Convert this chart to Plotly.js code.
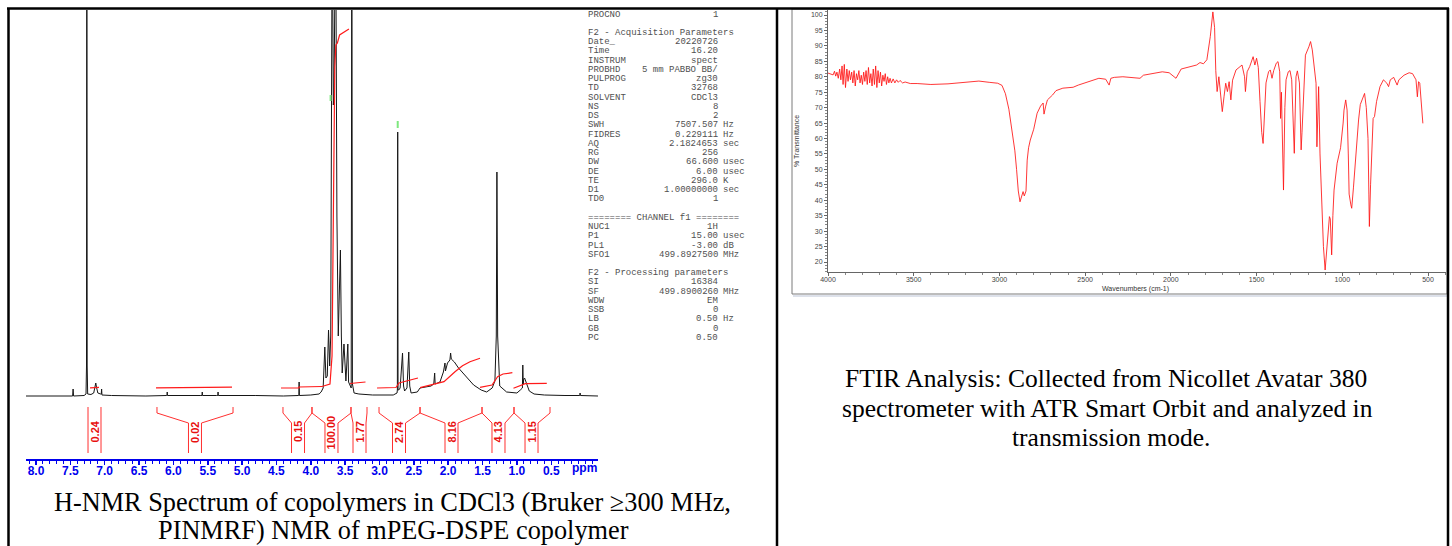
<!DOCTYPE html>
<html><head><meta charset="utf-8">
<script src="https://cdn.plot.ly/plotly-3.0.1.min.js"></script>
<style>html,body{margin:0;padding:0;background:#fff;}#chart{width:1452px;height:546px;}</style>
</head><body><div id="chart"></div>
<script>
// ---------- NMR spectrum (ppm vs intensity, intensity in arbitrary units; >386 is off-scale) ----------
const nmrPpm = [8.15,7.50,7.467,7.46,7.453,7.30,7.272,7.265,7.26,7.255,7.248,7.20,7.16,7.14,7.13,7.12,7.10,7.06,7.05,7.045,7.04,6.90,6.40,6.10,6.094,6.09,6.086,5.60,5.584,5.58,5.576,5.37,5.354,5.35,5.346,4.80,4.40,4.18,4.174,4.17,4.166,4.00,3.88,3.85,3.82,3.796,3.78,3.76,3.742,3.725,3.71,3.688,3.672,3.662,3.639,3.62,3.60,3.569,3.555,3.543,3.517,3.50,3.489,3.461,3.45,3.412,3.403,3.394,3.38,3.37,3.30,3.10,2.80,2.745,2.74,2.735,2.73,2.72,2.70,2.665,2.65,2.635,2.60,2.574,2.56,2.54,2.45,2.41,2.30,2.25,2.21,2.197,2.19,2.12,2.07,2.047,2.04,2.01,1.975,1.965,1.955,1.91,1.85,1.74,1.63,1.52,1.44,1.36,1.32,1.30,1.291,1.28,1.26,1.25,1.15,1.00,0.95,0.92,0.914,0.908,0.90,0.888,0.868,0.85,0.82,0.75,0.60,0.30,0.10,0.085,0.08,0.075,-0.18];
const nmrInt = [0,0.5,0,7,0,0.5,2,30,500,30,2,1.5,3,9,13,9,3,2,2,7,1,0.5,0,0.5,0.5,4,0.5,0.5,0.5,4,0.5,0.5,0.5,4,0.5,0.5,0,0.5,0.5,14,0.5,1,2,4,8,49,18,20,66,30,60,500,291,300,500,180,60,146,60,23,52,30,15,52,14,8,500,12,6,3,2,1,1,3,6,264,6,6,8,43,10,5,8,44,10,3,4,8,9,10,12,23,12,14,24,33,25,33,36,43,37,34,28,19,11,6,4,8,15,60,224,60,15,10,4,3,6,8,31,12,17,18,14,10,5,2,1,0.5,0.5,0.5,3,0.5,0];

// integral traces (red curves drawn over the spectrum; null separates regions)
const integralPpm = [7.214,7.083,null,6.253,5.147,null,4.434,4.172,4.172,3.837,null,3.837,3.721,3.691,3.670,3.651,3.635,3.613,3.581,3.517,3.445,null,3.429,3.313,3.204,null,3.036,2.760,2.716,2.556,2.440,null,2.410,2.250,2.061,1.901,1.792,1.683,1.537,null,1.537,1.362,1.281,1.202,1.066,null,1.050,0.932,0.878,0.565];
const integralCurve = [8.2,8.6,null,8.2,8.8,null,8,8,9,9.5,null,9.5,12,40,200,329,351,353,361,364,367,null,12.5,13,14,null,8,8.5,13,15.5,18,null,8.3,11,14.3,24.3,30.3,34.3,37.7,null,8.7,11,19.3,22,23.3,null,7.7,11,12.3,12.7];

// integral regions and values
const integralLabels = ["0.24","0.02","0.15","100.00","1.77","2.74","8.16","4.13","1.15"];
const integralFrom = [7.243,6.239,4.405,3.983,3.415,3.007,2.410,1.508,1.042];
const integralTo   = [7.054,5.132,3.983,3.415,3.182,2.410,1.508,1.042,0.518];
const integralMid  = [7.148,5.686,4.186,3.699,3.291,2.716,1.952,1.268,0.787];

// peak-pick markers (green)
const peakMarkPpm = [3.712,2.735];
const peakMarkTop = [301,275];
const peakMarkBottom = [295,268];

const nmrTicks = [8.0,7.5,7.0,6.5,6.0,5.5,5.0,4.5,4.0,3.5,3.0,2.5,2.0,1.5,1.0,0.5];

// ---------- acquisition / processing parameters ----------
const paramLabels = ["PROCNO","","F2 - Acquisition Parameters","Date_","Time","INSTRUM","PROBHD","PULPROG","TD","SOLVENT","NS","DS","SWH","FIDRES","AQ","RG","DW","DE","TE","D1","TD0","","======== CHANNEL f1 ========","NUC1","P1","PL1","SFO1","","F2 - Processing parameters","SI","SF","WDW","SSB","LB","GB","PC"];
const paramValues = ["1","","","20220726","16.20","spect","5 mm PABBO BB/","zg30","32768","CDCl3","8","2","7507.507","0.229111","2.1824653","256","66.600","6.00","296.0","1.00000000","1","","","1H","15.00","-3.00","499.8927500","","","16384","499.8900260","EM","0","0.50","0","0.50"];
const paramUnits = ["","","","","","","","","","","","","Hz","Hz","sec","","usec","usec","K","sec","","","","","usec","dB","MHz","","","","MHz","","","Hz","",""];

// ---------- FTIR spectrum ----------
const ftirWn = [4000,3985,3970,3962,3955,3948,3940,3932,3925,3918,3912,3905,3898,3890,3883,3876,3869,3862,3855,3848,3841,3834,3827,3820,3813,3806,3799,3792,3785,3778,3771,3764,3757,3750,3743,3736,3729,3722,3715,3708,3701,3694,3687,3680,3673,3666,3659,3652,3645,3638,3630,3620,3610,3600,3590,3580,3565,3550,3520,3480,3400,3300,3200,3120,3060,3010,2985,2965,2945,2925,2910,2900,2890,2880,2870,2862,2855,2845,2838,2830,2820,2800,2780,2760,2745,2740,2730,2720,2690,2670,2630,2570,2540,2480,2420,2380,2360,2350,2330,2280,2200,2180,2160,2100,2050,2010,1970,1940,1880,1850,1830,1810,1790,1770,1755,1745,1738,1730,1720,1705,1700,1690,1680,1670,1660,1650,1640,1620,1600,1585,1570,1565,1555,1540,1520,1510,1500,1490,1480,1470,1462,1455,1445,1430,1420,1410,1400,1385,1375,1365,1360,1355,1350,1343,1335,1328,1315,1305,1295,1288,1280,1270,1262,1250,1243,1240,1235,1228,1215,1195,1185,1175,1165,1153,1148,1143,1138,1130,1120,1110,1100,1090,1080,1075,1070,1062,1055,1048,1030,1020,1010,995,990,980,972,965,960,950,945,935,925,915,905,895,875,870,860,850,845,842,835,828,820,812,800,780,760,740,730,720,700,680,670,640,610,590,570,562,555,548,540,530];
const ftirT = [81.2,81.0,80.6,81.8,80.2,81.5,79.5,82.5,79.0,83.5,77.5,84.0,76.5,82.5,78.5,82.0,79.0,81.5,78.0,82.0,77.0,81.0,79.0,82.0,78.0,80.5,77.5,81.5,78.5,82.0,77.5,83.0,78.0,81.0,77.0,82.5,77.5,83.5,76.5,82.0,78.0,81.5,77.0,80.5,78.5,81.0,77.5,80.0,78.0,79.5,78.0,79.3,78.0,79.0,78.2,78.8,78.0,78.3,77.8,77.8,77.5,77.7,78.2,78.6,78.2,77.9,77.2,74.5,69.5,62.0,56.0,50.0,43.0,39.5,41.0,42.8,41.4,43.0,53.0,57.0,59.5,63.0,68.2,70.5,71.5,67.9,70.5,72.5,74.1,75.5,76.3,76.6,77.3,78.4,79.5,79.2,77.3,79.5,79.8,80.0,79.7,79.5,80.5,81.2,81.6,81.3,79.5,82.5,83.3,83.8,84.6,84.2,85.5,93.0,101.0,96.0,82.0,75.2,80.0,70.0,68.7,73.5,77.9,75.2,78.4,72.5,78.9,82.2,83.3,83.8,80.0,75.2,81.6,83.3,86.5,83.8,86.0,83.0,72.0,62.0,58.4,67.0,78.0,81.6,82.2,79.5,82.0,84.4,84.9,81.6,66.5,75.0,60.0,43.3,70.0,79.0,81.6,82.0,79.0,68.0,55.2,80.0,81.9,78.0,65.0,56.3,62.0,69.2,87.0,89.7,91.4,88.7,83.3,77.9,57.3,70.0,76.8,55.0,38.4,25.0,17.4,25.0,32.0,34.7,34.0,22.3,35.0,43.3,52.0,55.2,57.0,65.0,69.2,72.5,69.2,55.0,42.0,38.5,37.4,44.0,52.0,60.0,66.0,71.0,74.0,74.6,70.0,60.0,42.0,31.5,45.0,58.0,66.5,67.1,72.0,76.8,79.0,77.9,76.8,79.0,79.8,77.3,79.0,80.5,81.3,81.0,79.0,73.5,78.4,77.9,70.3,64.9];
const ftirXTicks = [4000,3500,3000,2500,2000,1500,1000,500];
const ftirYTicks = [20,25,30,35,40,45,50,55,60,65,70,75,80,85,90,95,100];

// ---------- layout helpers (pixel -> paper) ----------
const W = 1452, H = 546;
const px = x => x / W;
const py = y => 1 - y / H;

const traces = [];
traces.push({x: nmrPpm, y: nmrInt, type: 'scatter', mode: 'lines', xaxis: 'x', yaxis: 'y',
  line: {color: '#161616', width: 1}, hoverinfo: 'skip'});
traces.push({x: integralPpm, y: integralCurve, type: 'scatter', mode: 'lines', xaxis: 'x', yaxis: 'y',
  line: {color: '#ff1a1a', width: 1.2}, connectgaps: false, hoverinfo: 'skip'});

// integral brackets built from regions
const halfLab = 6.5 / 68.7;
const bx = [], by = [];
for (let i = 0; i < integralLabels.length; i++) {
  const cL = integralMid[i] + halfLab, cR = integralMid[i] - halfLab;
  bx.push(integralFrom[i], integralFrom[i], cL, cL, null, integralTo[i], integralTo[i], cR, cR, null);
  by.push(-11, -17, -27, -57, null, -11, -17, -27, -57, null);
}
traces.push({x: bx, y: by, type: 'scatter', mode: 'lines', xaxis: 'x', yaxis: 'y',
  line: {color: '#ff3030', width: 1}, connectgaps: false, hoverinfo: 'skip'});

const gx = [], gy = [];
peakMarkPpm.forEach((p, i) => { gx.push(p, p, null); gy.push(peakMarkBottom[i], peakMarkTop[i], null); });
traces.push({x: gx, y: gy, type: 'scatter', mode: 'lines', xaxis: 'x', yaxis: 'y',
  line: {color: '#7ee87e', width: 2}, hoverinfo: 'skip'});

traces.push({x: ftirWn, y: ftirT, type: 'scatter', mode: 'lines', xaxis: 'x2', yaxis: 'y2',
  line: {color: 'rgba(255,20,20,0.85)', width: 1}, hoverinfo: 'skip'});

const annotations = [];
const A = (x, y, text, font, extra) => Object.assign({xref: 'paper', yref: 'paper', x: px(x), y: py(y), text, showarrow: false,
  xanchor: 'center', yanchor: 'middle', font, borderpad: 0}, extra || {});

integralLabels.forEach((t, i) => annotations.push({
  xref: 'x', yref: 'y', x: integralMid[i], y: -36, text: t, textangle: -90, showarrow: false,
  xanchor: 'center', yanchor: 'middle',
  font: {family: 'Liberation Sans', size: 11, color: '#e81010', weight: 'bold'}
}));
annotations.push(A(584, 468, 'ppm', {family: 'Liberation Sans', size: 12, color: '#0000ee', weight: 'bold'}));

const pfont = {family: 'Liberation Mono', size: 9, color: '#505050'};
paramLabels.forEach((lab, i) => {
  const yy = 33 + (i - 2) * 9.24;
  if (lab) annotations.push(A(587, yy, lab, pfont, {xanchor: 'left'}));
  if (paramValues[i]) annotations.push(A(719, yy, paramValues[i], pfont, {xanchor: 'right'}));
  if (paramUnits[i]) annotations.push(A(722, yy, paramUnits[i], pfont, {xanchor: 'left'}));
});

annotations.push(A(797, 141, '% Transmittance', {family: 'Liberation Sans', size: 7, color: '#333'}, {textangle: -90}));
annotations.push(A(1135, 289, 'Wavenumbers (cm-1)', {family: 'Liberation Sans', size: 7, color: '#333'}));

const nfont = {family: 'Liberation Serif', size: 26.3, color: '#000'};
const cfont = {family: 'Liberation Serif', size: 25.5, color: '#000'};
[["H-NMR Spectrum of copolymers in CDCl3 (Bruker \u2265300 MHz,", 392, 502, nfont], ["PINMRF) NMR of mPEG-DSPE copolymer", 393, 530.5, nfont],
 ["FTIR Analysis: Collected from Nicollet Avatar 380", 1106, 378, cfont], ["spectrometer with ATR Smart Orbit and analyzed in", 1107, 408, cfont], ["transmission mode.", 1111, 437, cfont]]
 .forEach(c => annotations.push(A(c[1], c[2], c[0], c[3])));

const L = (x0, y0, x1, y1, color, width) => ({type: 'line', xref: 'paper', yref: 'paper', x0: px(x0), y0: py(y0), x1: px(x1), y1: py(y1), line: {color, width}});
const shapes = [
  {type: 'rect', xref: 'paper', yref: 'paper', x0: px(792), y0: py(9), x1: px(1447), y1: py(294), line: {color: '#7a7a7a', width: 1}, fillcolor: 'rgba(0,0,0,0)'},
  L(793, 296, 1447, 296, '#dde1ea', 2),
  L(7, 8.5, 1449, 8.5, '#000', 2.5),
  L(8.5, 8, 8.5, 546, '#000', 2.5),
  L(777, 8, 777, 546, '#000', 2.5),
  L(1448, 8, 1448, 546, '#000', 2.5)
];

const blue = '#0000ee';
const layout = {
  width: W, height: H, margin: {l: 0, r: 0, t: 0, b: 0}, paper_bgcolor: '#fff', plot_bgcolor: 'rgba(0,0,0,0)',
  showlegend: false,
  xaxis: {domain: [px(26), px(598)], range: [8.1456, -0.1805], anchor: 'y', showgrid: false, zeroline: false,
    showline: true, linecolor: blue, linewidth: 2, ticks: 'outside', ticklen: 4, tickwidth: 1.5, tickcolor: blue,
    tickvals: nmrTicks, ticktext: nmrTicks.map(v => v.toFixed(1)), ticklabelstandoff: -4,
    tickfont: {family: 'Liberation Sans', size: 12, color: blue, weight: 'bold'},
    minor: {dtick: 0.1, tick0: 0, ticks: 'outside', ticklen: 3, tickcolor: blue, tickwidth: 1}},
  yaxis: {domain: [py(459), py(10)], range: [-63, 386], visible: false, anchor: 'x'},
  xaxis2: {domain: [px(828), px(1446)], range: [4000, 395], anchor: 'y2', showgrid: false, zeroline: false,
    showline: true, linecolor: '#666', linewidth: 1, ticks: 'outside', ticklen: 3, tickcolor: '#666',
    tickvals: ftirXTicks, ticklabelstandoff: -2, tickfont: {family: 'Liberation Sans', size: 7, color: '#444'},
    minor: {dtick: 100, tick0: 0, ticks: 'outside', ticklen: 2, tickcolor: '#888'}},
  yaxis2: {domain: [py(272), py(10)], range: [16.76, 101.62], anchor: 'x2', showgrid: false, zeroline: false,
    showline: true, linecolor: '#666', linewidth: 1, ticks: 'outside', ticklen: 3, tickcolor: '#666',
    tickvals: ftirYTicks, tickfont: {family: 'Liberation Sans', size: 7, color: '#444'},
    minor: {dtick: 1, tick0: 0, ticks: 'outside', ticklen: 2, tickcolor: '#888'}},
  annotations, shapes
};
Plotly.newPlot('chart', traces, layout, {staticPlot: true});
</script></body></html>
